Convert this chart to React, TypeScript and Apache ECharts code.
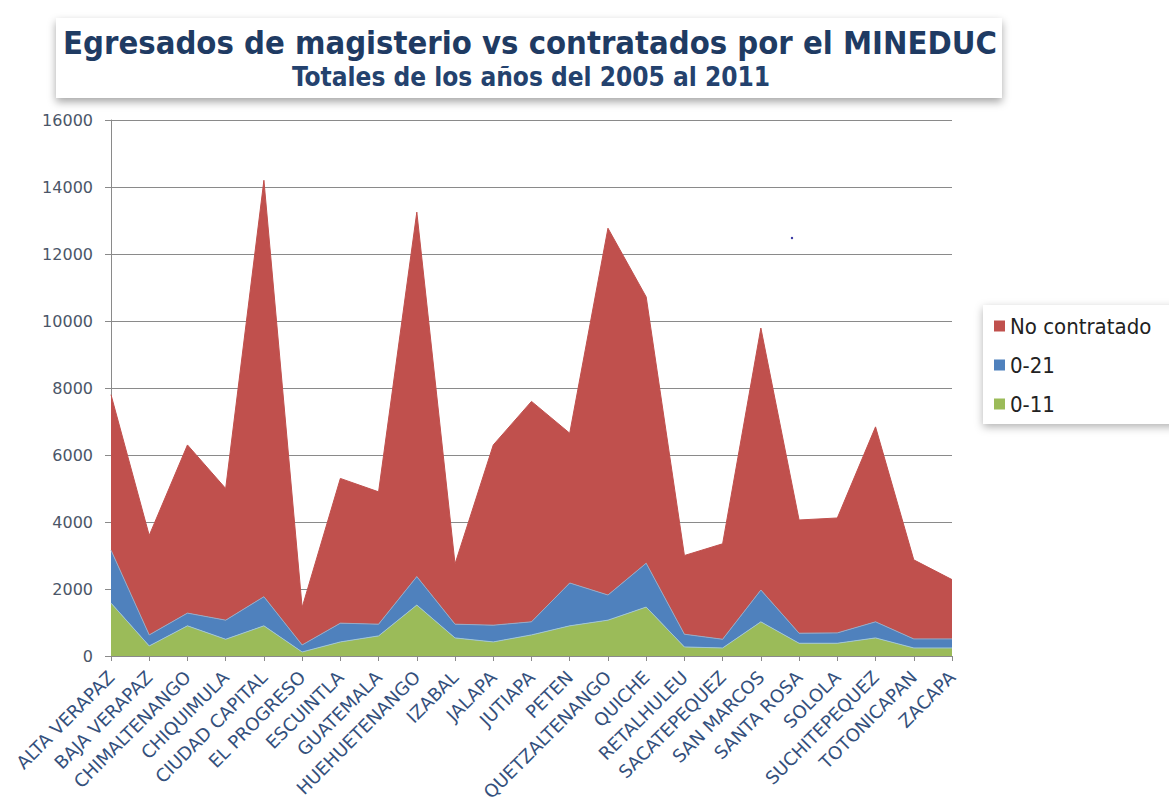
import React, { useEffect, useRef } from "react";
import * as echarts from "echarts";

const categories = [
  "ALTA VERAPAZ", "BAJA VERAPAZ", "CHIMALTENANGO", "CHIQUIMULA", "CIUDAD CAPITAL",
  "EL PROGRESO", "ESCUINTLA", "GUATEMALA", "HUEHUETENANGO", "IZABAL", "JALAPA",
  "JUTIAPA", "PETEN", "QUETZALTENANGO", "QUICHE", "RETALHULEU", "SACATEPEQUEZ",
  "SAN MARCOS", "SANTA ROSA", "SOLOLA", "SUCHITEPEQUEZ", "TOTONICAPAN", "ZACAPA",
];

// 0-11 (bottom layer)
const serie011 = [1580, 300, 900, 500, 900, 120, 420, 600, 1520, 540, 420, 630, 900, 1070, 1460, 270, 240, 1020, 380, 380, 540, 240, 240];
// 0-21 (middle layer)
const serie021 = [1580, 330, 380, 570, 870, 210, 560, 350, 850, 410, 500, 390, 1280, 750, 1310, 380, 260, 950, 300, 310, 480, 270, 270];
// No contratado (top layer)
const serieNo = [4640, 2970, 5020, 3930, 12430, 1120, 4320, 3950, 10880, 1800, 5380, 6580, 4470, 10950, 7950, 2350, 2850, 7820, 3380, 3430, 5820, 2360, 1770];

const yTicks = { min: 0, max: 16000, interval: 2000 };

const TITLE = "Egresados de magisterio vs contratados por el MINEDUC";
const SUBTITLE = "Totales de los años del 2005 al 2011";

const FONT_C = "'DejaVu Sans Condensed', 'DejaVu Sans', sans-serif";
const FONT = "'DejaVu Sans', sans-serif";

export default function App() {
  const ref = useRef<HTMLDivElement>(null);
  useEffect(() => {
    if (!ref.current) return;
    const chart = echarts.init(ref.current, undefined, { renderer: "svg" });
    chart.setOption({
      animation: false,
      backgroundColor: "#ffffff",
      textStyle: { fontFamily: FONT },
      graphic: [
        {
          type: "rect",
          shape: { x: 56, y: 18, width: 946, height: 80 },
          style: { fill: "#ffffff", shadowBlur: 8, shadowColor: "rgba(0,0,0,0.35)", shadowOffsetY: 4 },
          z: 0,
        },
        {
          type: "text",
          x: 530,
          y: 43,
          style: {
            text: TITLE,
            fill: "#1F3B63",
            font: `bold 32.5px ${FONT_C}`,
            align: "center",
            verticalAlign: "middle",
          },
          z: 1,
        },
        {
          type: "text",
          x: 531,
          y: 77,
          style: {
            text: SUBTITLE,
            fill: "#24426E",
            font: `bold 26px ${FONT_C}`,
            align: "center",
            verticalAlign: "middle",
          },
          z: 1,
        },
        {
          type: "circle",
          shape: { cx: 792, cy: 238, r: 1.2 },
          style: { fill: "#3030a0" },
          z: 5,
        },
      ],
      legend: {
        data: ["No contratado", "0-21", "0-11"],
        orient: "vertical",
        left: 983,
        top: 305,
        width: 240,
        itemWidth: 11,
        itemHeight: 11,
        itemGap: 17,
        icon: "rect",
        padding: [10, 40, 9, 11],
        backgroundColor: "#ffffff",
        shadowBlur: 8,
        shadowColor: "rgba(0,0,0,0.3)",
        shadowOffsetY: 3,
        textStyle: { fontSize: 22, color: "#222222", fontFamily: FONT_C },
      },
      grid: {
        left: 111,
        right: 217,
        top: 120,
        bottom: 151,
        containLabel: false,
        outerBoundsMode: "none",
      },
      xAxis: {
        type: "category",
        data: categories,
        boundaryGap: false,
        axisLine: { lineStyle: { color: "#8a8a8a", width: 1 } },
        axisTick: { show: true, interval: 0, length: 5, lineStyle: { color: "#8a8a8a" } },
        axisLabel: {
          interval: 0,
          rotate: 45,
          fontSize: 18,
          color: "#34507C",
          fontFamily: FONT,
          margin: 18,
        },
        splitLine: { show: false },
      },
      yAxis: {
        type: "value",
        min: yTicks.min,
        max: yTicks.max,
        interval: yTicks.interval,
        axisLine: { show: true, lineStyle: { color: "#8a8a8a", width: 1 } },
        axisTick: { show: true, length: 6, lineStyle: { color: "#8a8a8a" } },
        axisLabel: {
          fontSize: 16,
          color: "#4B5668",
          fontFamily: FONT,
          margin: 18,
          formatter: (v: number) => String(v),
        },
        splitLine: { show: true, lineStyle: { color: "#8a8a8a", width: 1 } },
      },
      series: [
        {
          name: "0-11",
          type: "line",
          stack: "total",
          data: serie011,
          symbol: "none",
          itemStyle: { color: "#9BBB59" },
          lineStyle: { color: "#9fc5d6", width: 1 },
          areaStyle: { color: "#9BBB59", opacity: 1 },
          z: 3,
        },
        {
          name: "0-21",
          type: "line",
          stack: "total",
          data: serie021,
          symbol: "none",
          itemStyle: { color: "#4F81BD" },
          lineStyle: { color: "#98aac4", width: 1 },
          areaStyle: { color: "#4F81BD", opacity: 1 },
          z: 2,
        },
        {
          name: "No contratado",
          type: "line",
          stack: "total",
          data: serieNo,
          symbol: "none",
          itemStyle: { color: "#C0504D" },
          lineStyle: { color: "#C0504D", width: 1 },
          areaStyle: { color: "#C0504D", opacity: 1 },
          z: 1,
        },
      ],
    });
    return () => chart.dispose();
  }, []);
  return (
    <div
      ref={ref}
      style={{ position: "fixed", left: 0, top: 0, width: 1169, height: 807 }}
    />
  );
}
